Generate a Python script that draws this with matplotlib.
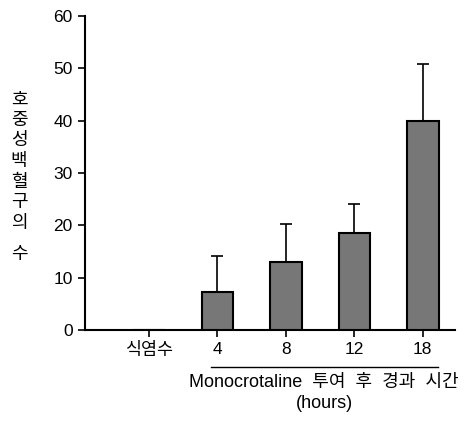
import numpy as np
import matplotlib
matplotlib.use('Agg')
from matplotlib import pyplot as plt

plt.rcParams['font.family'] = ['Liberation Sans', 'Noto Sans CJK KR', 'DejaVu Sans']

categories = ['식염수', '4', '8', '12', '18']
means = [0, 7.3, 12.9, 18.6, 40.0]
errors = [0, 6.8, 7.4, 5.4, 10.8]
yticks = [0, 10, 20, 30, 40, 50, 60]
ylabel_main = '호중성백혈구의'
ylabel_last = '수'
xlabel = 'Monocrotaline  투여  후  경과  시간\n(hours)'

W, H = 470, 423
fig = plt.figure(figsize=(W / 100, H / 100), dpi=100)
ax = fig.add_axes([0.181, 0.22, 0.787, 0.742])

x = np.arange(len(categories))
ax.bar(x, means, width=0.46, color='#777777', edgecolor='black', linewidth=1.5, zorder=3)
ax.errorbar(x[1:], means[1:], yerr=[np.zeros(len(x) - 1), errors[1:]], fmt='none',
            ecolor='black', elinewidth=1.2, capsize=4, capthick=1.2, zorder=2)

ax.set_xlim(-0.93, 4.47)
ax.set_ylim(0, 60)
ax.set_yticks(yticks)
ax.set_xticks(x)
ax.set_xticklabels(categories)
ax.tick_params(axis='both', direction='out', length=5, width=1.2, labelsize=12.5, pad=4)
for s in ['top', 'right']:
    ax.spines[s].set_visible(False)
for s in ['left', 'bottom']:
    ax.spines[s].set_linewidth(1.5)

# stacked y label, one character per line
for i, ch in enumerate(ylabel_main):
    fig.text(19 / W, 1 - (100 + i * 20.5) / H, ch, fontsize=13, ha='center', va='center')
fig.text(19 / W, 1 - 254 / H, ylabel_last, fontsize=13, ha='center', va='center')

# line over the hour groups and x label
trans = ax.get_xaxis_transform()
ax.plot([0.91, 4.22], [-0.117, -0.117], color='black', lw=1, transform=trans, clip_on=False)
ax.text(2.56, -0.14, xlabel, transform=trans, ha='center', va='top', fontsize=13,
        linespacing=1.3)

fig.savefig('out.png', dpi=100)
